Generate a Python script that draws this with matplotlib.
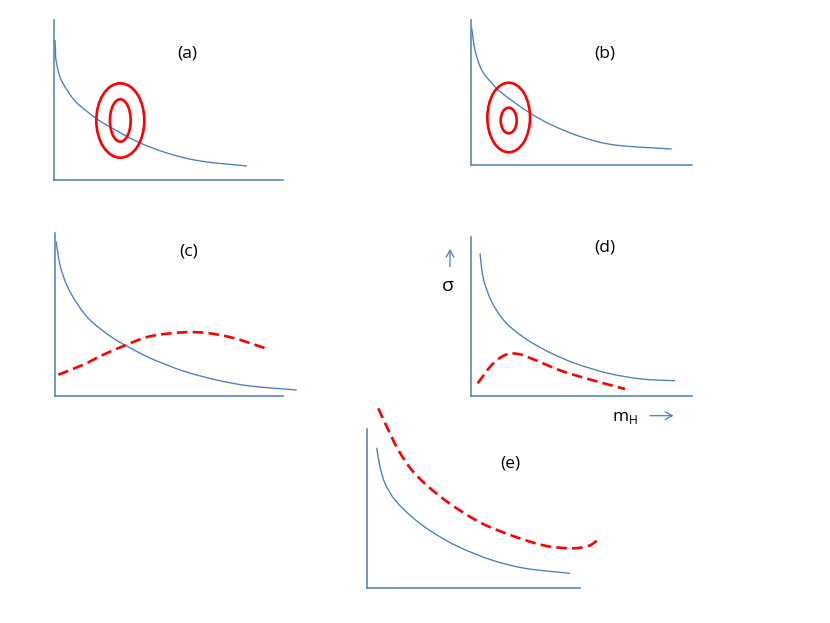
import matplotlib
matplotlib.use("Agg")
import matplotlib.pyplot as plt
from matplotlib.patches import Ellipse, PathPatch
from matplotlib.path import Path

W, H = 830, 623
BLUE = "#4a7ebb"
RED = "#ff0000"
plt.rcParams['font.family'] = ['Open Sans', 'DejaVu Sans']

# ---- data (schematic curves, axis units) ----
a_x = [1, 1.5, 2, 6, 13, 23, 43, 58, 84, 113, 146, 193]
a_y = [140, 130, 120, 103, 90, 77, 61, 52, 38, 27, 19, 14]
a_outer = (66.3, 59.5, 48, 74.4)
a_inner = (66.3, 59.5, 20.7, 42.4)

b_x = [0.7, 4, 10.7, 20.7, 30.7, 57.3, 80.7, 110.7, 144, 200.7]
b_y = [137, 115, 95, 82, 72, 53, 40, 28, 20, 16]
b_outer = (37.7, 47.5, 42.7, 69.6)
b_inner = (37.7, 44.5, 16, 25.6)

c_blue_x = [1, 5, 11.7, 21.7, 35, 55, 71.7, 95, 128.3, 161.7, 195, 241.7]
c_blue_y = [155, 131, 111, 93, 76, 60, 50, 38, 25, 16, 10, 6]
c_red_x = [3.3, 28.3, 48.3, 71.7, 95, 128.3, 151.7, 178.3, 211.7]
c_red_y = [21.3, 31.3, 41.3, 51.3, 59.7, 63.7, 63, 58, 47.3]

d_blue_x = [9, 12.3, 20.7, 34, 54, 77.3, 104, 137.3, 170.7, 204]
d_blue_y = [142.7, 117.7, 94.3, 74.3, 57.7, 44.3, 32.7, 22.7, 17, 15.3]
d_red_x = [6.7, 20.7, 34, 47.3, 64, 90.7, 120.7, 154]
d_red_y = [12.7, 31, 41, 42, 36, 25, 16, 7]

e_blue_x = [9.7, 13, 18, 28, 44.7, 64.7, 91.3, 124.7, 158, 203]
e_blue_y = [140.3, 121.3, 104.7, 88, 71.3, 56.3, 41.3, 28, 19.7, 14.7]
e_red_x = [11.3, 21.3, 31.3, 44.7, 61.3, 84.7, 114.7, 148, 178, 204.7, 221.3, 229.7]
e_red_y = [179.7, 158, 138, 118, 101.3, 83, 64.7, 51.3, 42.3, 39.7, 42, 47.3]

labels = ["(a)", "(b)", "(c)", "(d)", "(e)"]

fig = plt.figure(figsize=(W / 100, H / 100), dpi=100)


def make_ax(x0, y0, w, h):
    # x0, y0: axis origin in pixels (from top-left); w, h: size in pixels
    ax = fig.add_axes([x0 / W, (H - y0) / H, w / W, h / H])
    ax.set_xlim(0, w)
    ax.set_ylim(0, h)
    ax.patch.set_alpha(0)
    for s in ("top", "right"):
        ax.spines[s].set_visible(False)
    for s in ("left", "bottom"):
        ax.spines[s].set_color(BLUE)
        ax.spines[s].set_linewidth(1.1)
    ax.set_xticks([])
    ax.set_yticks([])
    return ax


def smooth_path(x, y):
    # cubic Bezier (Catmull-Rom style) passing through every read point
    pts = list(zip(x, y))
    n = len(pts)
    verts = [pts[0]]
    codes = [Path.MOVETO]
    for i in range(n - 1):
        p0 = pts[i - 1] if i > 0 else pts[i]
        p1 = pts[i]
        p2 = pts[i + 1]
        p3 = pts[i + 2] if i + 2 < n else pts[i + 1]
        c1 = (p1[0] + (p2[0] - p0[0]) / 6, p1[1] + (p2[1] - p0[1]) / 6)
        c2 = (p2[0] - (p3[0] - p1[0]) / 6, p2[1] - (p3[1] - p1[1]) / 6)
        verts += [c1, c2, p2]
        codes += [Path.CURVE4] * 3
    return Path(verts, codes)


def blue(ax, x, y):
    ax.add_patch(PathPatch(smooth_path(x, y), fill=False, ec=BLUE, lw=0.95,
                           clip_on=False, capstyle="butt"))


def red_dash(ax, x, y):
    ax.add_patch(PathPatch(smooth_path(x, y), fill=False, ec=RED, lw=1.9,
                           linestyle=(0, (4, 2)), clip_on=False))


def ell(ax, e):
    ax.add_patch(Ellipse((e[0], e[1]), e[2], e[3], fill=False,
                         ec=RED, lw=1.9, clip_on=False))


FS = 12.5
ARROW = dict(arrowstyle="->,head_length=0.5,head_width=0.28", color=BLUE,
             lw=0.9, shrinkA=0, shrinkB=0)

# (a)
ax = make_ax(54, 180, 229, 160)
blue(ax, a_x, a_y)
ell(ax, a_outer)
ell(ax, a_inner)
ax.text(133.3, 126, labels[0], fontsize=FS, ha="center", va="center")

# (b)
ax = make_ax(471, 165, 221, 145)
blue(ax, b_x, b_y)
ell(ax, b_outer)
ell(ax, b_inner)
ax.text(134, 111.7, labels[1], fontsize=FS, ha="center", va="center")

# (c)
ax = make_ax(55, 396, 228, 163)
blue(ax, c_blue_x, c_blue_y)
red_dash(ax, c_red_x, c_red_y)
ax.text(133.3, 144.7, labels[2], fontsize=FS, ha="center", va="center")

# (d)
ax = make_ax(471, 396, 221, 159)
blue(ax, d_blue_x, d_blue_y)
red_dash(ax, d_red_x, d_red_y)
ax.text(134, 148, labels[3], fontsize=FS, ha="center", va="center")
ax.text(-22.7, 110, "σ", fontsize=FS + 1.5, ha="center", va="center")
ax.annotate("", xy=(-21, 147), xytext=(-21, 129.3), annotation_clip=False,
            arrowprops=ARROW)
ax.text(154, -22, "m$_\\mathregular{H}$", fontsize=FS, ha="center", va="center")
ax.annotate("", xy=(202.5, -19.7), xytext=(179, -19.7), annotation_clip=False,
            arrowprops=ARROW)

# (e)
ax = make_ax(367, 588, 213, 159)
blue(ax, e_blue_x, e_blue_y)
red_dash(ax, e_red_x, e_red_y)
ax.text(143, 124.7, labels[4], fontsize=FS, ha="center", va="center")

fig.savefig("out.png", dpi=100)
